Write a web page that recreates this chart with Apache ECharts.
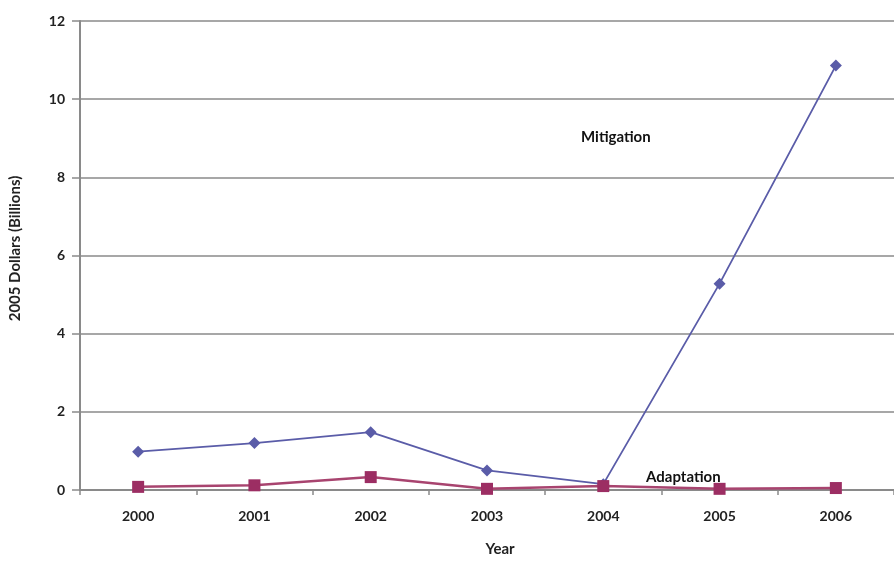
<!DOCTYPE html>
<html><head><meta charset="utf-8">
<script src="https://cdn.jsdelivr.net/npm/echarts@6/dist/echarts.min.js"></script>
<style>html,body{margin:0;padding:0;background:#fff;overflow:hidden}#c{width:894px;height:562px}</style>
</head><body><div id="c"></div>
<script>
const years = ['2000','2001','2002','2003','2004','2005','2006'];
const mitigation = [0.98, 1.2, 1.48, 0.5, 0.15, 5.28, 10.86];
const adaptation = [0.08, 0.12, 0.33, 0.03, 0.1, 0.03, 0.05];
const yTicks = [0, 2, 4, 6, 8, 10, 12];

const chart = echarts.init(document.getElementById('c'), null, {width: 894, height: 562});
const font = 'Lato, "Open Sans", sans-serif';
chart.setOption({
  animation: false,
  grid: {left: 75, top: 21, width: 825, height: 476, containLabel: false},
  xAxis: {
    type: 'category', data: years, boundaryGap: true,
    name: 'Year', nameLocation: 'middle', nameGap: 52,
    nameTextStyle: {fontFamily: font, fontWeight: 'bold', fontSize: 15, color: '#222', padding: [0, 0, 0, 26]},
    axisLine: {lineStyle: {color: '#8a8a8a', width: 2}},
    axisTick: {show: true, length: 5, lineStyle: {color: '#8a8a8a', width: 1.5}},
    axisLabel: {margin: 19, fontFamily: font, fontWeight: 'bold', fontSize: 14, color: '#222'}
  },
  yAxis: {
    type: 'value', min: 0, max: 12, interval: 2,
    name: '2005 Dollars (Billions)', nameLocation: 'middle', nameGap: 57, nameRotate: 90,
    nameTextStyle: {fontFamily: font, fontWeight: 'bold', fontSize: 15, color: '#222', padding: [0, 0, 0, 14]},
    axisLine: {show: true, lineStyle: {color: '#8a8a8a', width: 2}},
    axisTick: {show: true, length: 8, lineStyle: {color: '#8a8a8a', width: 1.5}},
    axisLabel: {margin: 15, fontFamily: font, fontWeight: 'bold', fontSize: 14, color: '#222',
      formatter: v => yTicks.includes(v) ? String(v) : ''},
    splitLine: {lineStyle: {color: '#8a8a8a', width: 1.5}}
  },
  series: [
    {name: 'Mitigation', type: 'line', data: mitigation, symbol: 'diamond', symbolSize: 12,
      lineStyle: {color: '#5a5ca8', width: 1.8}, itemStyle: {color: '#5a5ca8'}},
    {name: 'Adaptation', type: 'line', data: adaptation, symbol: 'rect', symbolSize: 12,
      lineStyle: {color: '#a8446f', width: 2.5}, itemStyle: {color: '#9c2e63'}}
  ],
  graphic: [
    {type: 'text', left: 581, top: 130, style: {text: 'Mitigation', font: 'bold 15px ' + font, fill: '#111'}},
    {type: 'text', left: 646, top: 470, style: {text: 'Adaptation', font: 'bold 15px ' + font, fill: '#111'}}
  ]
});
</script></body></html>
